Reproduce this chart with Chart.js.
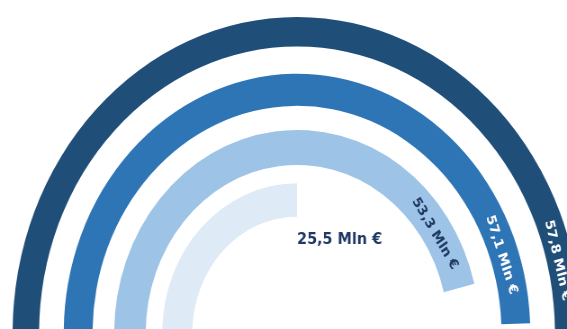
<!DOCTYPE html>
<html>
<head>
<meta charset="utf-8">
<script src="https://cdn.jsdelivr.net/npm/chart.js@4"></script>
<style>
  html, body { margin: 0; padding: 0; background: #fff; overflow: hidden; }
</style>
</head>
<body>
<!-- the reference is squeezed horizontally, so the canvas is drawn wider and shown at 567px -->
<canvas id="chart" width="630" height="329" style="width:567px;height:329px;display:block"></canvas>
<script>
// rings from outside to inside
const ringLabels = ['57,8 Mln €', '57,1 Mln €', '53,3 Mln €', '25,5 Mln €'];
const ringValues = [57.8, 57.1, 53.3, 28.9]; // arc lengths
const fullScale = 57.8; // value of a half circle
const ringColors = ['#1f4e79', '#2e75b6', '#9dc3e6', '#deebf7'];
const labelColors = ['#ffffff', '#ffffff', '#1f3864', '#1f3864'];

const ringWeights = [29.4, 32, 35, 33.4];
const gapWeights = [27.3, 24, 18.3];
const labelGaps = [32, 29, 19]; // distance of the label from the arc end

// build datasets: ring, spacer, ring, spacer ...
const datasets = [];
const ringIndex = [];
ringValues.forEach((v, i) => {
  ringIndex.push(datasets.length);
  datasets.push({
    data: [v, fullScale - v],
    backgroundColor: [ringColors[i], 'rgba(0,0,0,0)'],
    borderWidth: 0,
    weight: ringWeights[i]
  });
  if (i < gapWeights.length) {
    datasets.push({
      data: [fullScale],
      backgroundColor: ['rgba(0,0,0,0)'],
      borderWidth: 0,
      weight: gapWeights[i]
    });
  }
});

const ringLabelPlugin = {
  id: 'ringLabels',
  afterDatasetsDraw(chart) {
    const ctx = chart.ctx;
    ringIndex.forEach((dsIndex, i) => {
      const arc = chart.getDatasetMeta(dsIndex).data[0];
      const { x, y, endAngle, innerRadius, outerRadius } =
        arc.getProps(['x', 'y', 'endAngle', 'innerRadius', 'outerRadius'], true);
      ctx.save();
      ctx.fillStyle = labelColors[i];
      if (i < 3) {
        ctx.font = 'bold 14px "DejaVu Sans", sans-serif';
        const w = ctx.measureText(ringLabels[i]).width;
        const r = (innerRadius + outerRadius) / 2 - 3;
        const a = endAngle - (w / 2 + labelGaps[i]) / r;
        ctx.translate(x + r * Math.cos(a), y + r * Math.sin(a));
        ctx.rotate(a + Math.PI / 2);
        ctx.textAlign = 'center';
        ctx.textBaseline = 'middle';
        ctx.fillText(ringLabels[i], 0, 0);
      } else {
        // innermost label sits inside the hole, next to the end of the arc
        ctx.font = 'bold 16px "DejaVu Sans", sans-serif';
        ctx.textAlign = 'left';
        ctx.textBaseline = 'middle';
        ctx.fillText(ringLabels[i], x, y - innerRadius + 23);
      }
      ctx.restore();
    });
  }
};

new Chart(document.getElementById('chart'), {
  type: 'doughnut',
  data: { labels: ['value', 'rest'], datasets: datasets },
  options: {
    responsive: false,
    devicePixelRatio: 1,
    animation: false,
    events: [],
    rotation: -90,
    circumference: 180,
    radius: 316,
    cutout: '36.8%',
    layout: { padding: { top: 21, left: 30 } },
    plugins: {
      legend: { display: false },
      tooltip: { enabled: false }
    }
  },
  plugins: [ringLabelPlugin]
});
</script>
</body>
</html>
